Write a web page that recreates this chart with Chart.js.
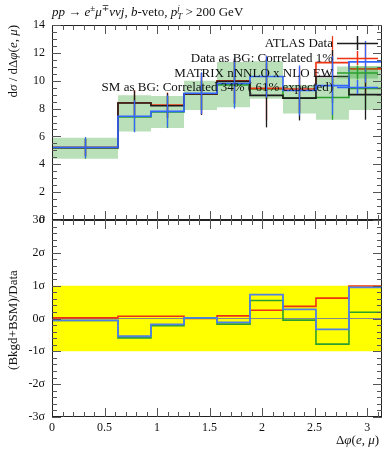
<!DOCTYPE html>
<html><head><meta charset="utf-8">
<script src="https://cdn.jsdelivr.net/npm/chart.js@4.4.0/dist/chart.umd.min.js"></script>
<style>
html,body{margin:0;padding:0;background:#fff;}
#wrap{position:relative;width:392px;height:450px;overflow:hidden;}
canvas{position:absolute;left:0;top:0;}
</style></head><body>
<div id="wrap"><canvas id="cTop" width="392" height="450"></canvas><canvas id="cBot" width="392" height="450"></canvas></div>
<script>
// ---------- data ----------
const binEdges = [0, 0.628, 0.942, 1.257, 1.571, 1.885, 2.199, 2.513, 2.827, 3.142];
const atlasData    = [5.2, 8.4, 8.2, 9.05, 9.95, 8.95, 8.75, 10.3, 9.0];
const atlasErr     = [0.6, 0.9, 0.9, 1.5, 1.6, 2.3, 1.6, 1.9, 1.8];
const dataAsBG     = [5.2, 8.42, 8.25, 9.05, 10.0, 9.45, 9.4, 11.3, 10.85];
const dataAsBGErr  = [0.6, 0.9, 0.9, 1.5, 1.6, 2.3, 1.6, 1.9, 1.8];
const matrixPred   = [5.15, 7.4, 7.75, 9.05, 9.7, 9.4, 8.75, 8.8, 9.45];
const matrixLow    = [4.4, 6.35, 6.6, 7.9, 8.1, 8.7, 7.65, 7.2, 7.9];
const matrixHigh   = [5.9, 8.95, 8.9, 10.0, 11.35, 11.4, 9.7, 10.2, 11.05];
const smAsBG       = [5.2, 7.45, 7.8, 9.1, 9.8, 10.3, 9.3, 9.65, 11.35];
const smAsBGErr    = [0.75, 1.15, 1.15, 1.5, 1.8, 1.5, 1.8, 2.1, 1.5];
const pullDataAsBG = [0.02, 0.07, 0.07, 0.0, 0.08, 0.25, 0.37, 0.62, 0.99];
const pullMatrix   = [-0.06, -0.59, -0.22, 0.01, -0.17, 0.55, -0.05, -0.78, 0.19];
const pullSMAsBG   = [-0.06, -0.54, -0.18, 0.02, -0.12, 0.73, 0.28, -0.33, 0.95];
const xTickValues  = [0, 0.5, 1, 1.5, 2, 2.5, 3];
const xTickLabels  = ['0', '0.5', '1', '1.5', '2', '2.5', '3'];
const yTopTicks    = [0, 2, 4, 6, 8, 10, 12, 14];
const yBotTicks    = [-3, -2, -1, 0, 1, 2, 3];
const yBotLabels   = ['-3σ', '-2σ', '-1σ', '0σ', '1σ', '2σ', '3σ'];
const legendLabels = ['ATLAS Data', 'Data as BG: Correlated 1%', 'MATRIX nNNLO x NLO EW', 'SM as BG: Correlated 34% ( 61% expected)'];

// ---------- helpers ----------
const XMAX = Math.PI;
const SERIF = '"Liberation Serif", "DejaVu Serif", serif';
const C_BLACK = '#1c1c1c', C_RED = '#ee3311', C_GREEN = '#2ca02c', C_BLUE = '#3366ff';
const C_BAND = 'rgba(44,160,44,0.33)', C_YELLOW = '#ffff00';

function hist(vals) {
  const pts = vals.map((v, i) => ({x: binEdges[i], y: v}));
  pts.push({x: binEdges[vals.length], y: vals[vals.length - 1]});
  return pts;
}
function lowOf(v, e) { return v.map((x, i) => x - e[i]); }
function highOf(v, e) { return v.map((x, i) => x + e[i]); }

// order: lower number is drawn on top
function histDS(vals, color, width, order, extra) {
  return Object.assign({
    data: hist(vals), borderColor: color, borderWidth: width, stepped: true,
    pointRadius: 0, fill: false, tension: 0, order: order
  }, extra || {});
}

function richWidth(ctx, segs, size) {
  let w = 0;
  for (const [t, st] of segs) {
    if (st === 'supsub') {
      ctx.font = 'italic ' + Math.round(size * 0.7) + 'px ' + SERIF;
      w += Math.max(ctx.measureText(t[0]).width, ctx.measureText(t[1]).width);
    } else {
      ctx.font = (st === 'i' ? 'italic ' : '') + (st === 'sup' ? Math.round(size * 0.7) : size) + 'px ' + SERIF;
      w += ctx.measureText(t).width;
    }
  }
  return w;
}
function drawRich(ctx, segs, x, y, size) {
  for (const [t, st] of segs) {
    if (st === 'supsub') {
      const s = Math.round(size * 0.7);
      ctx.font = 'italic ' + s + 'px ' + SERIF;
      ctx.fillText(t[0], x, y - size * 0.42);
      ctx.fillText(t[1], x, y + size * 0.25);
      x += Math.max(ctx.measureText(t[0]).width, ctx.measureText(t[1]).width);
    } else if (st === 'sup') {
      ctx.font = Math.round(size * 0.7) + 'px ' + SERIF;
      ctx.fillText(t, x, y - size * 0.38);
      x += ctx.measureText(t).width;
    } else {
      ctx.font = (st === 'i' ? 'italic ' : '') + size + 'px ' + SERIF;
      ctx.fillText(t, x, y);
      x += ctx.measureText(t).width;
    }
  }
  return x;
}

const errorBars = {
  id: 'errorBars',
  afterDatasetDraw(chart, args) {
    const ds = chart.data.datasets[args.index];
    if (!ds.errLow) return;
    const ctx = chart.ctx, xs = chart.scales.x, ys = chart.scales.y, a = chart.chartArea;
    ctx.save();
    ctx.beginPath(); ctx.rect(a.left, a.top, a.right - a.left, a.bottom - a.top); ctx.clip();
    ctx.strokeStyle = ds.borderColor; ctx.lineWidth = ds.errWidth || 1.3;
    for (let i = 0; i < ds.errLow.length; i++) {
      const xc = xs.getPixelForValue((binEdges[i] + binEdges[i + 1]) / 2);
      ctx.beginPath();
      ctx.moveTo(Math.round(xc) + 0.5, ys.getPixelForValue(ds.errLow[i]));
      ctx.lineTo(Math.round(xc) + 0.5, ys.getPixelForValue(ds.errHigh[i]));
      ctx.stroke();
    }
    ctx.restore();
  }
};

const frameTicks = {
  id: 'frameTicks',
  afterDraw(chart, args, o) {
    const ctx = chart.ctx, a = chart.chartArea, xs = chart.scales.x, ys = chart.scales.y;
    ctx.save();
    ctx.strokeStyle = '#222'; ctx.lineWidth = 1;
    ctx.strokeRect(Math.round(a.left) + 0.5, Math.round(a.top) + 0.5, Math.round(a.right - a.left) - 1, Math.round(a.bottom - a.top) - 1);
    ctx.strokeStyle = '#555';
    const L = o.major, l = o.minor;
    ctx.beginPath();
    const nx = Math.round(XMAX / o.xMinor);
    for (let k = 1; k <= nx; k++) {
      const v = k * o.xMinor;
      if (v >= XMAX - 1e-9) break;
      const isMaj = Math.abs(v / o.xMajor - Math.round(v / o.xMajor)) < 1e-6;
      const px = Math.round(xs.getPixelForValue(v)) + 0.5, len = isMaj ? L : l;
      ctx.moveTo(px, a.bottom); ctx.lineTo(px, a.bottom - len);
      ctx.moveTo(px, a.top); ctx.lineTo(px, a.top + len);
    }
    const ymin = ys.min, ymax = ys.max;
    const ny = Math.round((ymax - ymin) / o.yMinor);
    for (let k = 0; k <= ny; k++) {
      const v = ymin + k * o.yMinor;
      const isMaj = Math.abs(v / o.yMajor - Math.round(v / o.yMajor)) < 1e-6;
      const py = Math.round(ys.getPixelForValue(v)) + 0.5, len = isMaj ? L : l;
      ctx.moveTo(a.left, py); ctx.lineTo(a.left + len, py);
      ctx.moveTo(a.right, py); ctx.lineTo(a.right - len, py);
    }
    ctx.stroke();
    ctx.restore();
  }
};

const topTexts = {
  id: 'topTexts',
  afterDraw(chart) {
    const ctx = chart.ctx;
    ctx.save();
    ctx.fillStyle = '#111';
    ctx.textBaseline = 'alphabetic'; ctx.textAlign = 'left';
    drawRich(ctx, [['pp', 'i'], [' → ', 'n'], ['e', 'i'], ['±', 'sup'], ['μ', 'i'], ['∓', 'sup'], ['ννj', 'i'], [', ', 'n'], ['b', 'i'], ['-veto, ', 'n'], ['p', 'i'], [['j', 'T'], 'supsub'], [' > 200 GeV', 'n']], 52, 16, 13);
    const ysegs = [['d', 'n'], ['σ', 'i'], [' / d', 'n'], ['Δ', 'n'], ['φ', 'i'], ['(', 'n'], ['e', 'i'], [', ', 'n'], ['μ', 'i'], [')', 'n']];
    const w = richWidth(ctx, ysegs, 13);
    ctx.save();
    ctx.translate(14, 25 + w);
    ctx.rotate(-Math.PI / 2);
    ctx.textBaseline = 'middle';
    drawRich(ctx, ysegs, 0, 0, 13);
    ctx.restore();
    const rows = [43, 58, 72.5, 87];
    const colors = [C_BLACK, C_RED, C_GREEN, C_BLUE];
    ctx.font = '13px ' + SERIF;
    ctx.textAlign = 'right'; ctx.textBaseline = 'middle';
    for (let i = 0; i < legendLabels.length; i++) {
      const y = rows[i];
      ctx.fillStyle = '#111';
      ctx.fillText(legendLabels[i], 333, y + 1);
      if (i === 2) {
        ctx.fillStyle = C_BAND;
        ctx.fillRect(337, y - 6, 41, 12);
      }
      ctx.strokeStyle = colors[i]; ctx.lineWidth = 1.5;
      ctx.beginPath();
      ctx.moveTo(337, y + 0.5); ctx.lineTo(378, y + 0.5);
      ctx.moveTo(357.5, y - 7); ctx.lineTo(357.5, y + 7);
      ctx.stroke();
    }
    ctx.restore();
  }
};

const botTexts = {
  id: 'botTexts',
  afterDraw(chart) {
    const ctx = chart.ctx;
    ctx.save();
    ctx.fillStyle = '#111';
    const xsegs = [['Δ', 'n'], ['φ', 'i'], ['(', 'n'], ['e', 'i'], [', ', 'n'], ['μ', 'i'], [')', 'n']];
    const w = richWidth(ctx, xsegs, 13);
    ctx.textBaseline = 'middle'; ctx.textAlign = 'left';
    drawRich(ctx, xsegs, 379 - w, 441, 13);
    ctx.font = '13px ' + SERIF;
    ctx.save();
    ctx.translate(14, 320);
    ctx.rotate(-Math.PI / 2);
    ctx.textAlign = 'center'; ctx.textBaseline = 'middle';
    ctx.fillText('(Bkgd+BSM)/Data', 0, 0);
    ctx.restore();
    ctx.restore();
  }
};

Chart.defaults.font.family = SERIF;
Chart.defaults.color = '#111';

// ---------- upper chart ----------
new Chart(document.getElementById('cTop'), {
  type: 'line',
  data: {
    datasets: [
      histDS(matrixLow, 'rgba(0,0,0,0)', 0, 20),
      histDS(matrixHigh, 'rgba(0,0,0,0)', 0, 19, {fill: '-1', backgroundColor: C_BAND}),
      histDS(matrixPred, C_GREEN, 1.6, 4, {errLow: matrixLow, errHigh: matrixHigh}),
      histDS(dataAsBG, C_RED, 1.6, 3, {errLow: lowOf(dataAsBG, dataAsBGErr), errHigh: highOf(dataAsBG, dataAsBGErr)}),
      histDS(atlasData, C_BLACK, 1.6, 2, {errLow: lowOf(atlasData, atlasErr), errHigh: highOf(atlasData, atlasErr)}),
      histDS(smAsBG, C_BLUE, 1.6, 1, {errLow: lowOf(smAsBG, smAsBGErr), errHigh: highOf(smAsBG, smAsBGErr)})
    ]
  },
  options: {
    responsive: false, animation: false, events: [],
    layout: {padding: {left: 0, right: 10, top: 25, bottom: 230}},
    plugins: {legend: {display: false}, tooltip: {enabled: false},
      frameTicks: {xMajor: 0.5, xMinor: 0.1, yMajor: 2, yMinor: 0.5, major: 9, minor: 5}},
    scales: {
      x: {type: 'linear', min: 0, max: XMAX, display: false},
      y: {type: 'linear', min: 0, max: 14,
        grid: {display: false, drawTicks: false}, border: {display: false},
        afterFit: s => { s.width = 52; },
        afterBuildTicks: s => { s.ticks = yTopTicks.map(v => ({value: v})); },
        ticks: {padding: 7, font: {size: 12, family: SERIF}, color: '#111', callback: v => String(v)}
      }
    }
  },
  plugins: [errorBars, frameTicks, topTexts]
});

// ---------- lower chart ----------
new Chart(document.getElementById('cBot'), {
  type: 'line',
  data: {
    datasets: [
      {data: [{x: 0, y: -1}, {x: XMAX, y: -1}], borderWidth: 0, borderColor: 'rgba(0,0,0,0)', pointRadius: 0, fill: false, order: 20},
      {data: [{x: 0, y: 1}, {x: XMAX, y: 1}], borderWidth: 0, borderColor: 'rgba(0,0,0,0)', pointRadius: 0, fill: '-1', backgroundColor: C_YELLOW, order: 19},
      {data: [{x: 0, y: 0}, {x: XMAX, y: 0}], borderWidth: 1, borderColor: '#888', pointRadius: 0, fill: false, order: 10},
      histDS(pullDataAsBG, C_RED, 1.6, 3),
      histDS(pullMatrix, C_GREEN, 1.6, 2),
      histDS(pullSMAsBG, '#4f7fe8', 1.8, 1)
    ]
  },
  options: {
    responsive: false, animation: false, events: [],
    layout: {padding: {left: 0, right: 10, top: 220, bottom: 0}},
    plugins: {legend: {display: false}, tooltip: {enabled: false},
      frameTicks: {xMajor: 0.5, xMinor: 0.1, yMajor: 1, yMinor: 0.2, major: 9, minor: 5}},
    scales: {
      x: {type: 'linear', min: 0, max: XMAX,
        grid: {display: false, drawTicks: false}, border: {display: false},
        afterFit: s => { s.height = 33; },
        afterBuildTicks: s => { s.ticks = xTickValues.map(v => ({value: v})); },
        ticks: {padding: 4, maxRotation: 0, autoSkip: false, font: {size: 12, family: SERIF}, color: '#111',
          callback: (v) => { const i = xTickValues.indexOf(v); return i >= 0 ? xTickLabels[i] : ''; }}
      },
      y: {type: 'linear', min: -3, max: 3,
        grid: {display: false, drawTicks: false}, border: {display: false},
        afterFit: s => { s.width = 52; },
        afterBuildTicks: s => { s.ticks = yBotTicks.map(v => ({value: v})); },
        ticks: {padding: 7, font: {size: 12, family: SERIF}, color: '#111',
          callback: (v) => { const i = yBotTicks.indexOf(v); return i >= 0 ? yBotLabels[i] : ''; }}
      }
    }
  },
  plugins: [frameTicks, botTexts]
});
</script>
</body></html>
